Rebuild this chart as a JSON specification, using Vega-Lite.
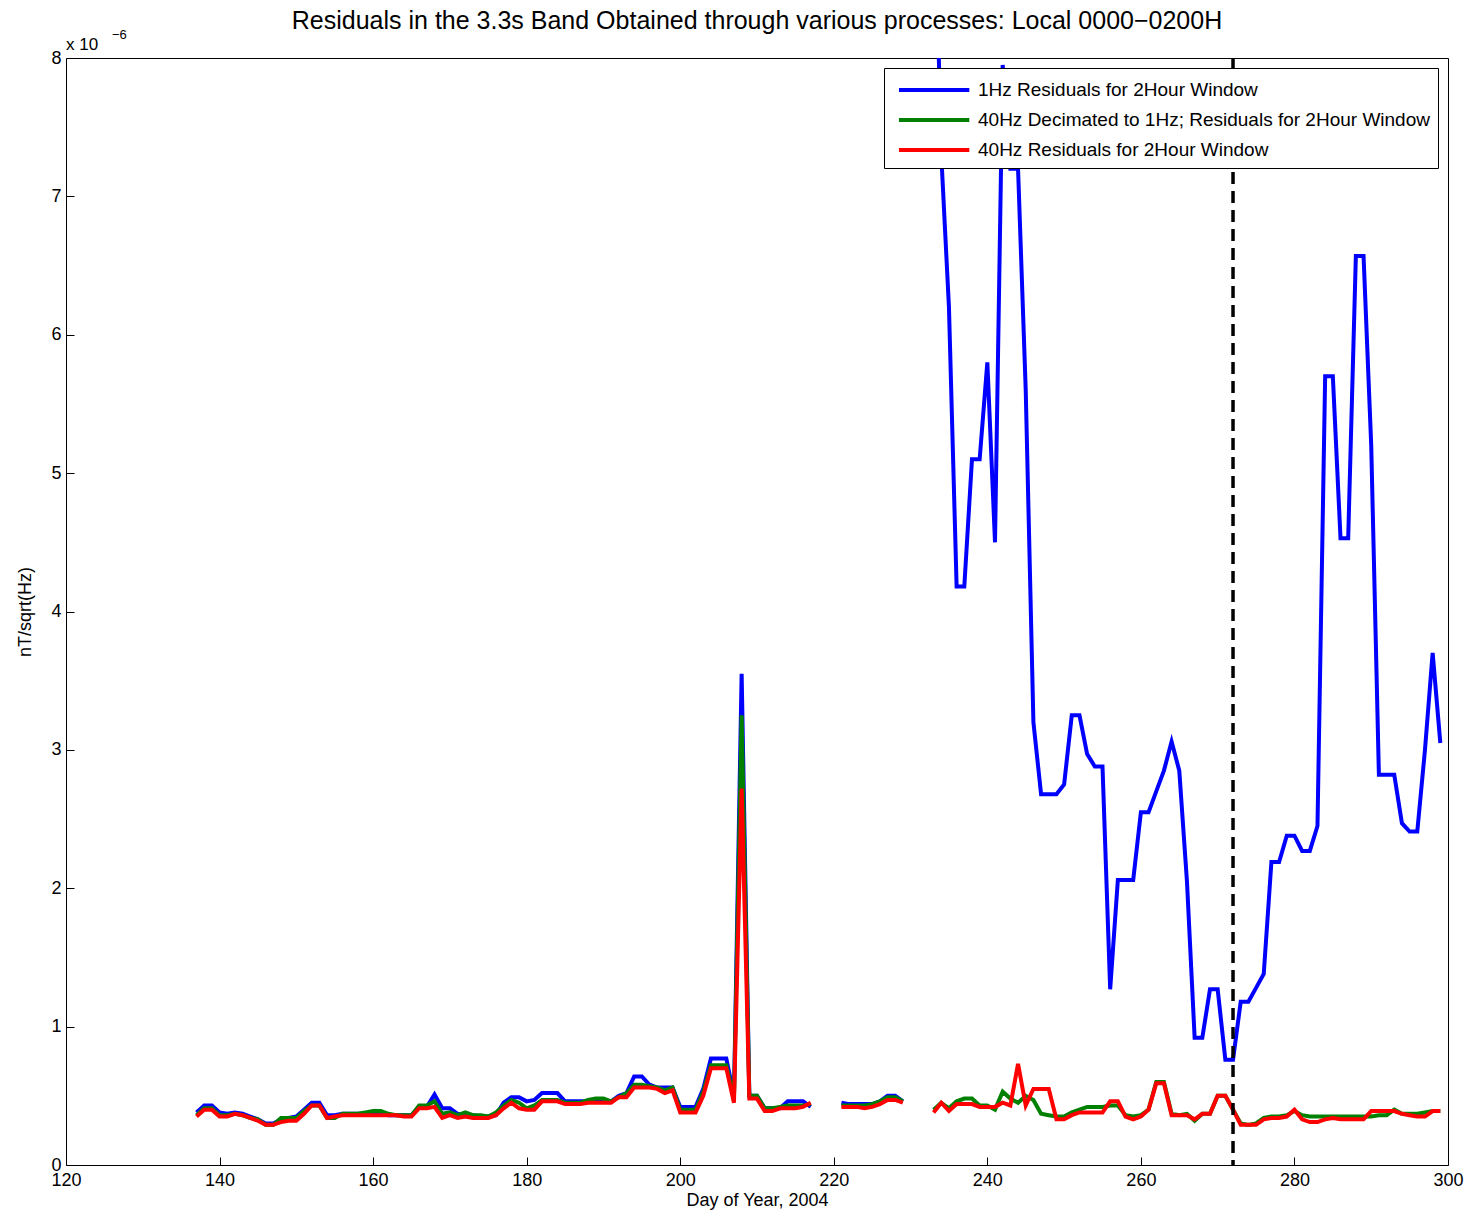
{
  "$schema": "https://vega.github.io/schema/vega-lite/v6.json",
  "width": 1382,
  "height": 1107,
  "autosize": "none",
  "padding": {"left": 66, "top": 58, "right": 28, "bottom": 67},
  "title": {"text": "Residuals in the 3.3s Band Obtained through various processes: Local 0000\u22120200H", "fontSize": 25, "fontWeight": "normal", "font": "Liberation Sans", "color": "black", "offset": 6, "dy": 36, "baseline": "bottom"},
  "config": {
    "font": "Liberation Sans",
    "view": {"stroke": "black", "strokeWidth": 1},
    "axis": {"grid": false, "domain": false, "tickColor": "black", "tickSize": -8, "labelFontSize": 18, "labelColor": "black", "titleFontSize": 18, "titleFontWeight": "normal", "titleColor": "black", "labelPadding": 12, "labelFlush": false, "format": "d"}
  },
  "data": {"values": [
    {"day":137,"b":0.38,"g":0.36,"r":0.35,"seg":1},
    {"day":138,"b":0.43,"g":0.41,"r":0.40,"seg":1},
    {"day":139,"b":0.43,"g":0.41,"r":0.40,"seg":1},
    {"day":140,"b":0.38,"g":0.36,"r":0.35,"seg":1},
    {"day":141,"b":0.37,"g":0.36,"r":0.35,"seg":1},
    {"day":142,"b":0.38,"g":0.37,"r":0.37,"seg":1},
    {"day":143,"b":0.37,"g":0.36,"r":0.36,"seg":1},
    {"day":144,"b":0.35,"g":0.34,"r":0.34,"seg":1},
    {"day":145,"b":0.33,"g":0.33,"r":0.32,"seg":1},
    {"day":146,"b":0.30,"g":0.29,"r":0.29,"seg":1},
    {"day":147,"b":0.30,"g":0.29,"r":0.29,"seg":1},
    {"day":148,"b":0.33,"g":0.34,"r":0.31,"seg":1},
    {"day":149,"b":0.34,"g":0.34,"r":0.32,"seg":1},
    {"day":150,"b":0.35,"g":0.34,"r":0.32,"seg":1},
    {"day":151,"b":0.40,"g":0.39,"r":0.37,"seg":1},
    {"day":152,"b":0.45,"g":0.43,"r":0.43,"seg":1},
    {"day":153,"b":0.45,"g":0.43,"r":0.43,"seg":1},
    {"day":154,"b":0.36,"g":0.34,"r":0.34,"seg":1},
    {"day":155,"b":0.36,"g":0.34,"r":0.35,"seg":1},
    {"day":156,"b":0.37,"g":0.37,"r":0.36,"seg":1},
    {"day":157,"b":0.37,"g":0.37,"r":0.36,"seg":1},
    {"day":158,"b":0.37,"g":0.37,"r":0.36,"seg":1},
    {"day":159,"b":0.37,"g":0.38,"r":0.36,"seg":1},
    {"day":160,"b":0.37,"g":0.39,"r":0.36,"seg":1},
    {"day":161,"b":0.37,"g":0.39,"r":0.36,"seg":1},
    {"day":162,"b":0.36,"g":0.37,"r":0.36,"seg":1},
    {"day":163,"b":0.36,"g":0.36,"r":0.36,"seg":1},
    {"day":164,"b":0.36,"g":0.36,"r":0.35,"seg":1},
    {"day":165,"b":0.36,"g":0.36,"r":0.35,"seg":1},
    {"day":166,"b":0.42,"g":0.43,"r":0.41,"seg":1},
    {"day":167,"b":0.42,"g":0.43,"r":0.41,"seg":1},
    {"day":168,"b":0.51,"g":0.46,"r":0.42,"seg":1},
    {"day":169,"b":0.41,"g":0.37,"r":0.34,"seg":1},
    {"day":170,"b":0.41,"g":0.38,"r":0.36,"seg":1},
    {"day":171,"b":0.37,"g":0.36,"r":0.34,"seg":1},
    {"day":172,"b":0.36,"g":0.38,"r":0.35,"seg":1},
    {"day":173,"b":0.36,"g":0.36,"r":0.34,"seg":1},
    {"day":174,"b":0.35,"g":0.36,"r":0.34,"seg":1},
    {"day":175,"b":0.35,"g":0.35,"r":0.34,"seg":1},
    {"day":176,"b":0.36,"g":0.38,"r":0.36,"seg":1},
    {"day":177,"b":0.45,"g":0.43,"r":0.41,"seg":1},
    {"day":178,"b":0.49,"g":0.47,"r":0.45,"seg":1},
    {"day":179,"b":0.49,"g":0.45,"r":0.41,"seg":1},
    {"day":180,"b":0.46,"g":0.41,"r":0.40,"seg":1},
    {"day":181,"b":0.47,"g":0.43,"r":0.40,"seg":1},
    {"day":182,"b":0.52,"g":0.47,"r":0.46,"seg":1},
    {"day":183,"b":0.52,"g":0.47,"r":0.46,"seg":1},
    {"day":184,"b":0.52,"g":0.47,"r":0.46,"seg":1},
    {"day":185,"b":0.46,"g":0.45,"r":0.44,"seg":1},
    {"day":186,"b":0.46,"g":0.45,"r":0.44,"seg":1},
    {"day":187,"b":0.46,"g":0.45,"r":0.44,"seg":1},
    {"day":188,"b":0.46,"g":0.47,"r":0.45,"seg":1},
    {"day":189,"b":0.47,"g":0.48,"r":0.45,"seg":1},
    {"day":190,"b":0.47,"g":0.48,"r":0.45,"seg":1},
    {"day":191,"b":0.46,"g":0.46,"r":0.45,"seg":1},
    {"day":192,"b":0.50,"g":0.49,"r":0.49,"seg":1},
    {"day":193,"b":0.52,"g":0.52,"r":0.49,"seg":1},
    {"day":194,"b":0.64,"g":0.58,"r":0.56,"seg":1},
    {"day":195,"b":0.64,"g":0.58,"r":0.56,"seg":1},
    {"day":196,"b":0.58,"g":0.57,"r":0.56,"seg":1},
    {"day":197,"b":0.56,"g":0.56,"r":0.55,"seg":1},
    {"day":198,"b":0.56,"g":0.54,"r":0.52,"seg":1},
    {"day":199,"b":0.56,"g":0.56,"r":0.54,"seg":1},
    {"day":200,"b":0.42,"g":0.40,"r":0.38,"seg":1},
    {"day":201,"b":0.42,"g":0.40,"r":0.38,"seg":1},
    {"day":202,"b":0.42,"g":0.40,"r":0.38,"seg":1},
    {"day":203,"b":0.55,"g":0.53,"r":0.50,"seg":1},
    {"day":204,"b":0.77,"g":0.72,"r":0.70,"seg":1},
    {"day":205,"b":0.77,"g":0.72,"r":0.70,"seg":1},
    {"day":206,"b":0.77,"g":0.72,"r":0.70,"seg":1},
    {"day":207,"b":0.50,"g":0.48,"r":0.45,"seg":1},
    {"day":208,"b":3.55,"g":3.25,"r":2.72,"seg":1},
    {"day":209,"b":0.50,"g":0.50,"r":0.48,"seg":1},
    {"day":210,"b":0.50,"g":0.50,"r":0.48,"seg":1},
    {"day":211,"b":0.41,"g":0.41,"r":0.39,"seg":1},
    {"day":212,"b":0.41,"g":0.41,"r":0.39,"seg":1},
    {"day":213,"b":0.41,"g":0.42,"r":0.41,"seg":1},
    {"day":214,"b":0.46,"g":0.43,"r":0.41,"seg":1},
    {"day":215,"b":0.46,"g":0.43,"r":0.41,"seg":1},
    {"day":216,"b":0.46,"g":0.43,"r":0.42,"seg":1},
    {"day":217,"b":0.42,"g":0.44,"r":0.45,"seg":1},
    {"day":221,"b":0.45,"g":0.43,"r":0.42,"seg":2},
    {"day":222,"b":0.44,"g":0.43,"r":0.42,"seg":2},
    {"day":223,"b":0.44,"g":0.43,"r":0.42,"seg":2},
    {"day":224,"b":0.44,"g":0.43,"r":0.41,"seg":2},
    {"day":225,"b":0.44,"g":0.44,"r":0.42,"seg":2},
    {"day":226,"b":0.46,"g":0.46,"r":0.44,"seg":2},
    {"day":227,"b":0.50,"g":0.49,"r":0.47,"seg":2},
    {"day":228,"b":0.50,"g":0.49,"r":0.47,"seg":2},
    {"day":229,"b":0.46,"g":0.46,"r":0.45,"seg":2},
    {"day":233,"b":9.5,"g":0.40,"r":0.38,"seg":3},
    {"day":234,"b":7.3,"g":0.45,"r":0.45,"seg":3},
    {"day":235,"b":6.2,"g":0.41,"r":0.39,"seg":3},
    {"day":236,"b":4.18,"g":0.46,"r":0.44,"seg":3},
    {"day":237,"b":4.18,"g":0.48,"r":0.44,"seg":3},
    {"day":238,"b":5.1,"g":0.48,"r":0.44,"seg":3},
    {"day":239,"b":5.1,"g":0.43,"r":0.42,"seg":3},
    {"day":240,"b":5.8,"g":0.43,"r":0.42,"seg":3},
    {"day":241,"b":4.5,"g":0.40,"r":0.42,"seg":3},
    {"day":242,"b":7.95,"g":0.53,"r":0.45,"seg":3},
    {"day":243,"b":7.2,"g":0.48,"r":0.43,"seg":3},
    {"day":244,"b":7.2,"g":0.45,"r":0.73,"seg":3},
    {"day":245,"b":5.6,"g":0.50,"r":0.43,"seg":3},
    {"day":246,"b":3.2,"g":0.47,"r":0.55,"seg":3},
    {"day":247,"b":2.68,"g":0.37,"r":0.55,"seg":3},
    {"day":248,"b":2.68,"g":0.36,"r":0.55,"seg":3},
    {"day":249,"b":2.68,"g":0.35,"r":0.33,"seg":3},
    {"day":250,"b":2.75,"g":0.35,"r":0.33,"seg":3},
    {"day":251,"b":3.25,"g":0.38,"r":0.36,"seg":3},
    {"day":252,"b":3.25,"g":0.40,"r":0.38,"seg":3},
    {"day":253,"b":2.97,"g":0.42,"r":0.38,"seg":3},
    {"day":254,"b":2.88,"g":0.42,"r":0.38,"seg":3},
    {"day":255,"b":2.88,"g":0.42,"r":0.38,"seg":3},
    {"day":256,"b":1.27,"g":0.43,"r":0.46,"seg":3},
    {"day":257,"b":2.06,"g":0.43,"r":0.46,"seg":3},
    {"day":258,"b":2.06,"g":0.36,"r":0.35,"seg":3},
    {"day":259,"b":2.06,"g":0.35,"r":0.33,"seg":3},
    {"day":260,"b":2.55,"g":0.36,"r":0.35,"seg":3},
    {"day":261,"b":2.55,"g":0.40,"r":0.40,"seg":3},
    {"day":262,"b":2.7,"g":0.60,"r":0.59,"seg":3},
    {"day":263,"b":2.85,"g":0.60,"r":0.59,"seg":3},
    {"day":264,"b":3.06,"g":0.37,"r":0.36,"seg":3},
    {"day":265,"b":2.85,"g":0.36,"r":0.36,"seg":3},
    {"day":266,"b":2.05,"g":0.37,"r":0.36,"seg":3},
    {"day":267,"b":0.92,"g":0.32,"r":0.33,"seg":3},
    {"day":268,"b":0.92,"g":0.37,"r":0.37,"seg":3},
    {"day":269,"b":1.27,"g":0.37,"r":0.37,"seg":3},
    {"day":270,"b":1.27,"g":0.50,"r":0.50,"seg":3},
    {"day":271,"b":0.76,"g":0.50,"r":0.50,"seg":3},
    {"day":272,"b":0.76,"g":0.40,"r":0.40,"seg":3},
    {"day":273,"b":1.18,"g":0.30,"r":0.29,"seg":3},
    {"day":274,"b":1.18,"g":0.29,"r":0.29,"seg":3},
    {"day":275,"b":1.28,"g":0.30,"r":0.29,"seg":3},
    {"day":276,"b":1.38,"g":0.34,"r":0.33,"seg":3},
    {"day":277,"b":2.19,"g":0.35,"r":0.34,"seg":3},
    {"day":278,"b":2.19,"g":0.35,"r":0.34,"seg":3},
    {"day":279,"b":2.38,"g":0.36,"r":0.35,"seg":3},
    {"day":280,"b":2.38,"g":0.39,"r":0.40,"seg":3},
    {"day":281,"b":2.27,"g":0.36,"r":0.33,"seg":3},
    {"day":282,"b":2.27,"g":0.35,"r":0.31,"seg":3},
    {"day":283,"b":2.45,"g":0.35,"r":0.31,"seg":3},
    {"day":284,"b":5.7,"g":0.35,"r":0.33,"seg":3},
    {"day":285,"b":5.7,"g":0.35,"r":0.34,"seg":3},
    {"day":286,"b":4.53,"g":0.35,"r":0.33,"seg":3},
    {"day":287,"b":4.53,"g":0.35,"r":0.33,"seg":3},
    {"day":288,"b":6.57,"g":0.35,"r":0.33,"seg":3},
    {"day":289,"b":6.57,"g":0.35,"r":0.33,"seg":3},
    {"day":290,"b":5.2,"g":0.35,"r":0.39,"seg":3},
    {"day":291,"b":2.82,"g":0.36,"r":0.39,"seg":3},
    {"day":292,"b":2.82,"g":0.36,"r":0.39,"seg":3},
    {"day":293,"b":2.82,"g":0.40,"r":0.39,"seg":3},
    {"day":294,"b":2.47,"g":0.37,"r":0.37,"seg":3},
    {"day":295,"b":2.41,"g":0.37,"r":0.36,"seg":3},
    {"day":296,"b":2.41,"g":0.37,"r":0.35,"seg":3},
    {"day":297,"b":3.0,"g":0.38,"r":0.35,"seg":3},
    {"day":298,"b":3.7,"g":0.39,"r":0.39,"seg":3},
    {"day":299,"b":3.05,"g":0.39,"r":0.39,"seg":3}
  ]},
  "layer": [
    {
      "transform": [
        {"fold": ["b", "g", "r"], "as": ["key", "value"]}
      ],
      "mark": {"type": "line", "strokeWidth": 4, "clip": true},
      "encoding": {
        "x": {"field": "day", "type": "quantitative", "scale": {"domain": [120, 300], "nice": false}, "axis": {"values": [120,140,160,180,200,220,240,260,280,300], "title": "Day of Year, 2004", "titlePadding": 2, "labelPadding": 14}},
        "y": {"field": "value", "type": "quantitative", "scale": {"domain": [0, 8], "nice": false}, "axis": {"values": [0,1,2,3,4,5,6,7,8], "title": "nT/sqrt(Hz)", "titlePadding": 16, "labelPadding": 13}},
        "color": {"field": "key", "type": "nominal",
          "scale": {"domain": ["b", "g", "r"], "range": ["#0000ff", "#008000", "#ff0000"]},
          "legend": {"title": null, "orient": "top-right", "offset": 10, "fillColor": "white", "strokeColor": "black", "padding": 8, "symbolType": "M-0.6,0H5.4", "symbolStrokeWidth": 4, "symbolSize": 550, "labelFontSize": 19, "labelColor": "black", "labelLimit": 800, "labelOffset": 58, "rowPadding": 6,
            "labelExpr": "datum.label == 'b' ? '1Hz Residuals for 2Hour Window' : datum.label == 'g' ? '40Hz Decimated to 1Hz; Residuals for 2Hour Window' : '40Hz Residuals for 2Hour Window'"}},
        "detail": {"field": "seg", "type": "nominal"}
      }
    },
    {
      "data": {"values": [{"day": 272}]},
      "mark": {"type": "rule", "color": "black", "strokeWidth": 3.5, "strokeDash": [12, 7]},
      "encoding": {"x": {"field": "day", "type": "quantitative"}}
    },
    {
      "data": {"values": [{"day": 120, "v": 8, "t": "x 10"}]},
      "mark": {"type": "text", "align": "left", "baseline": "bottom", "fontSize": 17, "dy": -4},
      "encoding": {"x": {"field": "day", "type": "quantitative"}, "y": {"field": "v", "type": "quantitative"}, "text": {"field": "t"}}
    },
    {
      "data": {"values": [{"day": 120, "v": 8, "t": "\u22126"}]},
      "mark": {"type": "text", "align": "left", "baseline": "bottom", "fontSize": 13, "dx": 46, "dy": -16},
      "encoding": {"x": {"field": "day", "type": "quantitative"}, "y": {"field": "v", "type": "quantitative"}, "text": {"field": "t"}}
    }
  ]
}
